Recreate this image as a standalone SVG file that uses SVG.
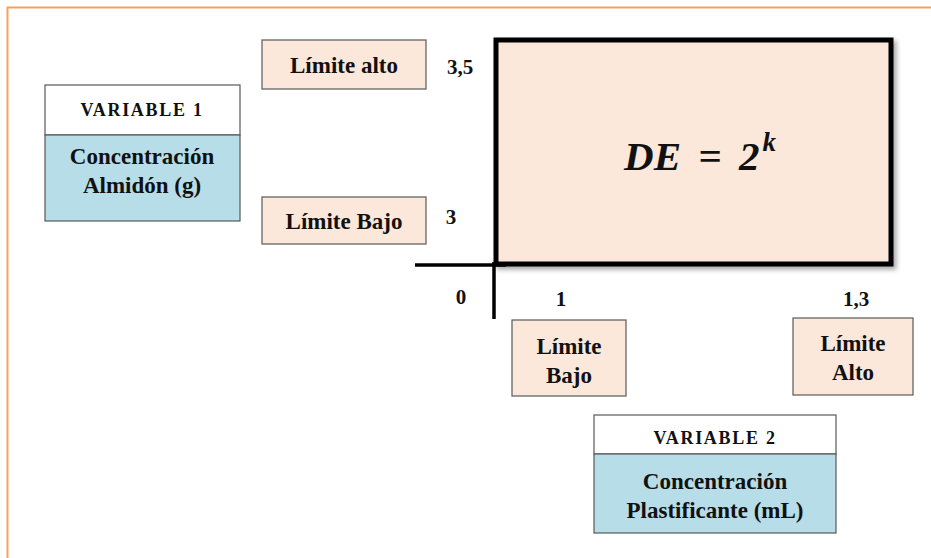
<svg xmlns="http://www.w3.org/2000/svg" width="931" height="558" viewBox="0 0 931 558">
  <style>
    .box { stroke: #595959; stroke-width: 1.2; }
    .peach { fill: #FCE8DA; }
    .blue { fill: #B7DDE8; }
    .white { fill: #FFFFFF; }
    .t { font-family: "Liberation Serif", "Times New Roman", serif; font-weight: bold; fill: #111; text-anchor: middle; }
    .lbl { font-size: 23px; }
    .hdr { font-size: 18px; letter-spacing: 1.7px; }
    .num { font-size: 21px; }
  </style>
  <defs>
    <filter id="shadow" x="-5%" y="-5%" width="112%" height="115%">
      <feGaussianBlur in="SourceAlpha" stdDeviation="2.5"/>
      <feOffset dx="3" dy="3" result="b"/>
      <feComponentTransfer><feFuncA type="linear" slope="0.35"/></feComponentTransfer>
      <feMerge><feMergeNode/><feMergeNode in="SourceGraphic"/></feMerge>
    </filter>
  </defs>

  <rect width="931" height="558" fill="#FFFFFF"/>
  <!-- page frame -->
  <path d="M7.5 558 V7.5 H931" fill="none" stroke="#F7A15E" stroke-width="2"/>

  <!-- design region -->
  <g id="design">
    <rect x="496" y="40" width="395" height="224" fill="#FCE8DA" stroke="#000" stroke-width="5" filter="url(#shadow)"/>
    <text x="700" y="170" font-family="'Liberation Serif', 'Times New Roman', serif" font-weight="bold" font-style="italic" font-size="41" word-spacing="7" fill="#111" text-anchor="middle">DE = 2<tspan dx="3" dy="-19" font-size="27">k</tspan></text>
  </g>

  <!-- axes -->
  <g id="connectors" stroke="#000" stroke-width="3.5" fill="none">
    <line x1="415" y1="265" x2="506" y2="265"/>
    <line x1="494" y1="262" x2="494" y2="319"/>
  </g>

  <!-- axis values -->
  <g id="values">
    <text class="t num" x="460" y="74">3,5</text>
    <text class="t num" x="451" y="224">3</text>
    <text class="t num" x="461" y="304">0</text>
    <text class="t num" x="561" y="306">1</text>
    <text class="t num" x="856" y="306">1,3</text>
  </g>

  <g id="limite-alto-1">
    <rect class="box peach" x="262" y="40" width="164" height="49"/>
    <text class="t lbl" x="344" y="73">Límite alto</text>
  </g>

  <g id="limite-bajo-1">
    <rect class="box peach" x="262" y="197" width="164" height="47"/>
    <text class="t lbl" x="344" y="229">Límite Bajo</text>
  </g>

  <g id="variable-1">
    <rect class="box white" x="45" y="85" width="195" height="50"/>
    <rect class="box blue" x="45" y="135" width="195" height="86"/>
    <text class="t hdr" x="142" y="116">VARIABLE 1</text>
    <text class="t lbl" x="142" y="164">Concentración</text>
    <text class="t lbl" x="142" y="193">Almidón (g)</text>
  </g>

  <g id="limite-bajo-2">
    <rect class="box peach" x="512" y="320" width="114" height="76"/>
    <text class="t lbl" x="569" y="354">Límite</text>
    <text class="t lbl" x="569" y="383">Bajo</text>
  </g>

  <g id="limite-alto-2">
    <rect class="box peach" x="793" y="318" width="120" height="77"/>
    <text class="t lbl" x="853" y="351">Límite</text>
    <text class="t lbl" x="853" y="380">Alto</text>
  </g>

  <g id="variable-2">
    <rect class="box white" x="594" y="415" width="242" height="39"/>
    <rect class="box blue" x="594" y="454" width="242" height="79"/>
    <text class="t hdr" x="715" y="444">VARIABLE 2</text>
    <text class="t lbl" x="715" y="489">Concentración</text>
    <text class="t lbl" x="715" y="518">Plastificante (mL)</text>
  </g>
</svg>
